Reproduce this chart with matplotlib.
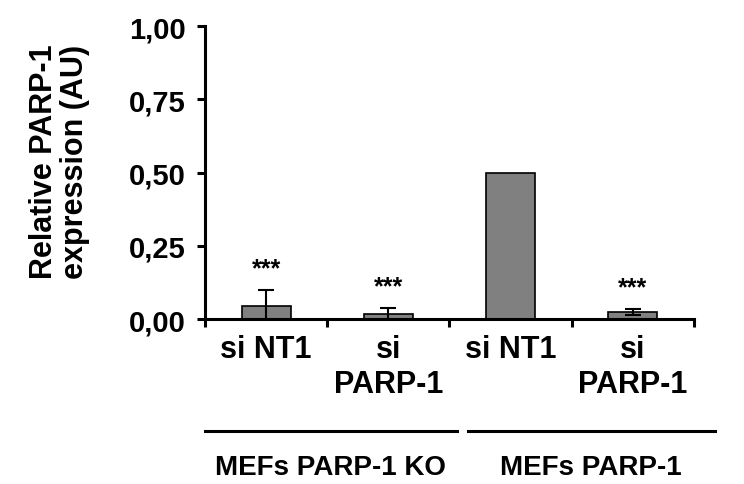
import matplotlib.pyplot as plt

# bar values, errors and labels
categories = ["si NT1", "si\nPARP-1", "si NT1", "si\nPARP-1"]
values = [0.045, 0.018, 0.50, 0.025]
errors = [0.053, 0.020, 0.0, 0.010]
stars = ["***", "***", "", "***"]
groups = ["MEFs PARP-1 KO", "MEFs PARP-1"]
yticks = [0.0, 0.25, 0.50, 0.75, 1.00]
ytick_labels = ["0,00", "0,25", "0,50", "0,75", "1,00"]

plt.rcParams['font.family'] = ['Liberation Sans', 'DejaVu Sans']
plt.rcParams['font.weight'] = 'bold'

fig = plt.figure(figsize=(7.44, 4.85), dpi=100)
ax = fig.add_axes([0.2755, 0.340, 0.657, 0.604])

x = list(range(len(categories)))
ax.bar(x, values, 0.4, color="#808080", edgecolor="black", linewidth=1.2, zorder=2)
for i in x:
    if errors[i] > 0:
        ax.errorbar(i, values[i], yerr=errors[i], fmt="none", ecolor="black",
                    elinewidth=1.5, capsize=6, capthick=1.5, zorder=3)
    if stars[i]:
        ax.text(i, values[i] + errors[i] + 0.075, stars[i], ha="center", va="center",
                fontsize=18, fontweight="bold")

ax.set_xlim(-0.5, len(categories) - 0.5)
ax.set_ylim(0, 1.0)
ax.set_yticks(yticks)
ax.set_yticklabels(ytick_labels, fontsize=21, fontweight="bold")
ax.set_ylabel("Relative PARP-1\nexpression (AU)", fontsize=22, fontweight="bold",
              linespacing=1.05)
ax.yaxis.set_label_coords(-0.235, 0.54)

# ticks sit on the category boundaries, labels go in between
ax.set_xticks([i - 0.5 for i in range(len(categories) + 1)])
ax.set_xticklabels([])
for i, lab in enumerate(categories):
    ax.text(i, -0.052, lab, ha="center", va="top", fontsize=22, fontweight="bold",
            linespacing=1.2, clip_on=False)

ax.tick_params(axis="both", direction="out", length=6, width=2.2)
ax.tick_params(axis="y", pad=8)
for side in ["top", "right"]:
    ax.spines[side].set_visible(False)
for side in ["left", "bottom"]:
    ax.spines[side].set_linewidth(2.2)

# group lines and labels under the categories
group_spans = [(-0.5, 1.56), (1.65, 3.67)]
for (x0, x1), name in zip(group_spans, groups):
    ax.plot([x0, x1], [-0.382, -0.382], color="black", linewidth=2.2, clip_on=False)
    ax.text((x0 + x1) / 2, -0.505, name, ha="center", va="center", fontsize=20,
            fontweight="bold", clip_on=False)

fig.savefig("out.png", dpi=100)
